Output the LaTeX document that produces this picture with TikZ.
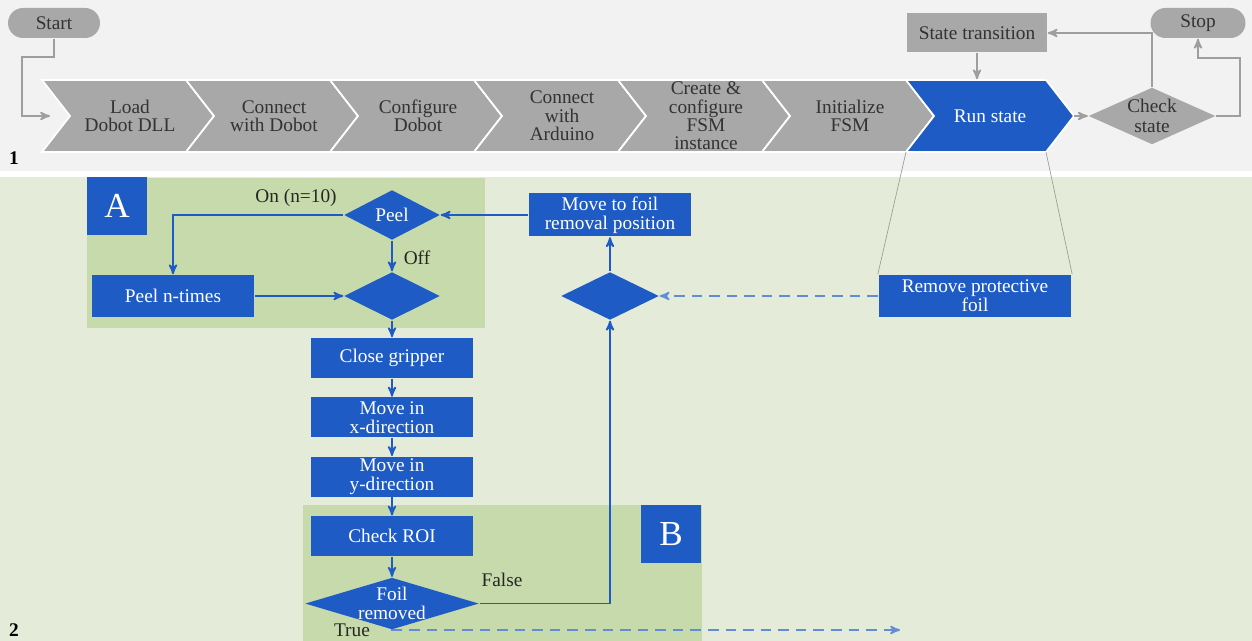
\documentclass[tikz,border=0pt]{standalone}
\usepackage{fontspec}
\setmainfont{Liberation Serif}
\usetikzlibrary{arrows}
\usetikzlibrary{positioning}
\usetikzlibrary{shapes.geometric}

\definecolor{topbg}{HTML}{F2F2F2}
\definecolor{greenbg}{HTML}{E4ECD9}
\definecolor{greenbox}{HTML}{C6DAAC}
\definecolor{flowblue}{HTML}{1F5BC4}
\definecolor{chevgray}{HTML}{A8A8A8}
\definecolor{linegray}{HTML}{9E9E9E}

\begin{document}
\begin{tikzpicture}[x=0.02cm,y=-0.02cm,->,>=stealth',thick,
  font=\fontsize{11}{11}\selectfont,
  blue node/.style={rectangle,fill=flowblue,text=white,align=center,inner sep=0pt,minimum width=3.26cm,minimum height=0.8cm},
  blue diamond/.style={diamond,fill=flowblue,text=white,align=center,inner sep=-2pt,aspect=2,minimum width=1.92cm,minimum height=1cm},
  gray node/.style={rectangle,fill=chevgray,text=black!80,align=center,inner sep=0pt},
  chev text/.style={align=center,text=black!80,inner sep=0pt,minimum height=1.44cm,font=\fontsize{11}{10.5}\selectfont},
  tag node/.style={rectangle,fill=flowblue,text=white,font=\fontsize{20}{20}\selectfont,minimum width=1.22cm,minimum height=1.15cm},
  edge label/.style={text=black!85,inner sep=1pt},
  blue line/.style={draw=flowblue,line width=1pt},
  gray line/.style={draw=linegray,line width=1pt},
  long dash/.style={draw=flowblue!70,dash pattern=on 6pt off 4pt}]

  \useasboundingbox (0,0) rectangle (1252,641);

  % panels
  \fill[-,topbg] (0,0) rectangle (1252,171);
  \fill[-,greenbg] (0,177) rectangle (1252,641);
  \fill[-,greenbox] (87,178) rectangle (485,328);
  \fill[-,greenbox] (303,505) rectangle (702,641);

  % panel 1: start-up chain
  \foreach \x/\txt [count=\i] in {42/{Load\\Dobot DLL},186/{Connect\\with Dobot},330/{Configure\\Dobot},474/{Connect\\with\\Arduino},618/{Create \&\\configure\\FSM\\instance},762/{Initialize\\FSM}}{
    \filldraw[-,fill=chevgray,draw=white,line width=1pt] (\x,80) -- ++(144,0) -- ++(28,36) -- ++(-28,36) -- ++(-144,0) -- ++(28,-36) -- cycle;
    \node[chev text] (c\i) at (\x+88,116) {\txt};
  }
  \filldraw[-,fill=flowblue,draw=white,line width=1pt] (906,80) -- ++(140,0) -- ++(28,36) -- ++(-28,36) -- ++(-140,0) -- ++(28,-36) -- cycle;
  \node[chev text,text=white] (run) at (990,116) {Run state};
  \coordinate (run tip) at (1074,116);
  \coordinate (run bl) at (906,152);
  \coordinate (run br) at (1046,152);
  \coordinate (load in) at (50,116);
  \coordinate (stop loop) at (1240,58);

  \node[gray node,rounded corners=0.3cm,minimum width=1.84cm,minimum height=0.6cm] (start) at (54,23) {Start};
  \node[gray node,rounded corners=0.3cm,minimum width=1.9cm,minimum height=0.6cm] (stop) at (1198,23) {Stop};
  \node[gray node,minimum width=2.8cm,minimum height=0.78cm] (trans) at (977,33) {State transition};
  \node[gray node,diamond,inner sep=-2pt,aspect=2.2,minimum width=2.54cm,minimum height=1.14cm] (check) at (1152,116) {Check\\state};

  \draw[gray line] (start.south) |- ++(-32,18) |- (load in);
  \draw[gray line] (trans) -- (trans |- run.north);
  \draw[gray line] (check.north) |- (trans.east);
  \draw[gray line] (run tip) -- (check.west);
  \draw[gray line] (check.east) -| (stop loop) -| (stop.south);

  \node[font=\bfseries\fontsize{11}{11}\selectfont] (sec1) at (14,158) {1};
  \node[font=\bfseries\fontsize{11}{11}\selectfont] (sec2) at (14,630) {2};

  % panel 2: run state
  \node[tag node] (tagA) at (117,206) {A};
  \node[tag node] (tagB) at (671,534) {B};

  \node[blue diamond] (peel) at (392,215) {Peel};
  \node[blue diamond,minimum height=0.96cm] (join) at (392,296) {};
  \node[blue node,minimum height=0.84cm] (peeln) at (173,296) {Peel n-times};
  \node[blue node] (close) at (392,358) {Close gripper};
  \node[blue node] (movex) [below=.36cm of close] {Move in\\x-direction};
  \node[blue node] (movey) [below=.36cm of movex] {Move in\\y-direction};
  \node[blue node] (roi) [below=.36cm of movey] {Check ROI};
  \node[blue diamond,inner sep=-3pt,aspect=3.3,minimum width=3.48cm,minimum height=1.04cm] (foil) [below=.4cm of roi] {Foil\\removed};
  \node[blue diamond,minimum width=1.96cm,minimum height=0.96cm] (fork) at (610,296) {};
  \node[blue node,minimum width=3.24cm,minimum height=0.86cm] (mfoil) at (610,215) {Move to foil\\removal position};
  \node[blue node,minimum width=3.86cm,minimum height=0.84cm] (remove) at (975,296) {Remove protective\\foil};
  \coordinate (true end) at (900,630);

  \draw[-,linegray,thin] (run bl) -- (remove.north west);
  \draw[-,linegray,thin] (run br) -- (remove.north east);

  \draw[blue line] (peel.west) -| (peeln.north);
  \node[edge label] (on) at (296,198) {On (n=10)};
  \draw[blue line] (peel) -- (join);
  \node[edge label] (off) at (417,258) {Off};
  \draw[blue line] (peeln) -- (join);
  \draw[blue line] (join) -- (close);
  \draw[blue line] (close) -- (movex);
  \draw[blue line] (movex) -- (movey);
  \draw[blue line] (movey) -- (roi);
  \draw[blue line] (roi) -- (foil);
  \draw[blue line] (foil.east) -| (fork.south);
  \node[edge label] (false) at (502,580) {False};
  \draw[blue line] (fork) -- (mfoil);
  \draw[blue line] (mfoil.west) -- (peel.east);
  \draw[blue line,long dash] (remove) -- (fork);
  \draw[blue line,long dash] (foil.south) |- (true end);
  \node[edge label] (true) at (352,630) {True};

\end{tikzpicture}
\end{document}
